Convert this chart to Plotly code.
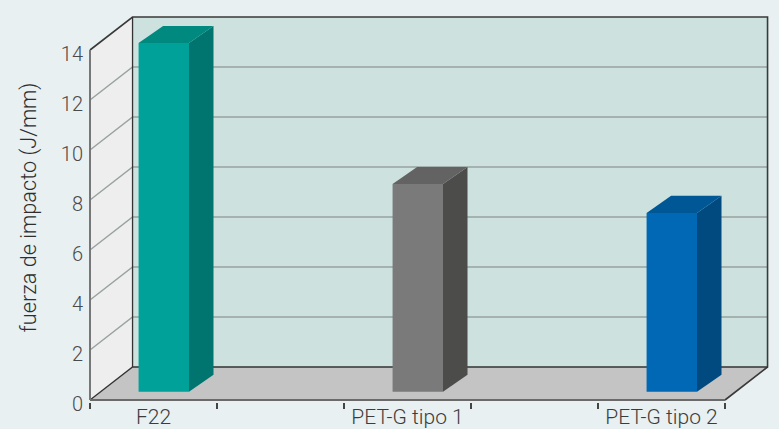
import plotly.graph_objects as go

# Chart values
categories = ["F22", "PET-G tipo 1", "PET-G tipo 2"]
impact = [13.95, 8.3, 7.15]
y_ticks = [0, 2, 4, 6, 8, 10, 12, 14]
band_edges = [0, 1, 2, 3, 4, 5]
band_centres = [0.5, 2.5, 4.5]

front_colors = ["#00a199", "#7a7a7a", "#0068b4"]
side_colors = ["#00756f", "#4c4c4b", "#004a80"]
top_colors = ["#00897f", "#636363", "#005796"]

# Oblique projection of the box, in axis units
WALL_DX = 0.335
WALL_DY = 1.32
BAR_WIDTH = 0.397
BAR_DX = 0.193
BAR_DY = 0.68
BAR_SHIFT_X = 0.081
BAR_LIFT = 0.335
X_END = 5
Y_END = 14

FONT = "Roboto"
TICK_COLOR = "#4a4a4a"


def poly(xs, ys, color):
    return go.Scatter(x=xs + xs[:1], y=ys + ys[:1], mode="lines", fill="toself",
                      fillcolor=color, line=dict(width=0), hoverinfo="skip")


def seg(xs, ys, color, width):
    return go.Scatter(x=xs, y=ys, mode="lines", line=dict(color=color, width=width),
                      hoverinfo="skip")


fig = go.Figure()

# Back wall, side wall and floor
fig.add_trace(poly([WALL_DX, X_END + WALL_DX, X_END + WALL_DX, WALL_DX],
                   [WALL_DY, WALL_DY, Y_END + WALL_DY, Y_END + WALL_DY], "#cde2df"))
fig.add_trace(poly([0, WALL_DX, WALL_DX, 0],
                   [0, WALL_DY, Y_END + WALL_DY, Y_END], "#eeeeee"))
fig.add_trace(poly([0, X_END, X_END + WALL_DX, WALL_DX],
                   [0, 0, WALL_DY, WALL_DY], "#c4c4c4"))

# Grid lines across both walls
for t in y_ticks[1:-1]:
    fig.add_trace(seg([0, WALL_DX, X_END + WALL_DX],
                      [t, t + WALL_DY, t + WALL_DY], "#98a3a1", 1.5))

# Box outline
fig.add_trace(seg([0, WALL_DX, X_END + WALL_DX, X_END + WALL_DX, X_END],
                  [Y_END, Y_END + WALL_DY, Y_END + WALL_DY, WALL_DY, 0], "#3a3a3a", 1.6))
fig.add_trace(seg([WALL_DX, WALL_DX], [Y_END + WALL_DY, WALL_DY], "#333333", 1.3))
fig.add_trace(seg([0, WALL_DX, X_END + WALL_DX], [0, WALL_DY, WALL_DY], "#333333", 1.3))
fig.add_trace(seg([0, X_END], [0, 0], "#6a6a6a", 1.8))
fig.add_trace(seg([0, 0], [0, Y_END], "#777777", 2))

# Extruded bars
for centre, value, front, side, top in zip(band_centres, impact, front_colors,
                                           side_colors, top_colors):
    x0 = centre + BAR_SHIFT_X - BAR_WIDTH / 2
    x1 = x0 + BAR_WIDTH
    y0 = BAR_LIFT
    y1 = y0 + value
    fig.add_trace(poly([x1, x1 + BAR_DX, x1 + BAR_DX, x1],
                       [y0, y0 + BAR_DY, y1 + BAR_DY, y1], side))
    fig.add_trace(poly([x0, x1, x1 + BAR_DX, x0 + BAR_DX],
                       [y1, y1, y1 + BAR_DY, y1 + BAR_DY], top))
    fig.add_trace(poly([x0, x1, x1, x0], [y0, y0, y1, y1], front))

fig.update_layout(
    width=779,
    height=429,
    autosize=False,
    showlegend=False,
    hovermode=False,
    paper_bgcolor="#e8f0f1",
    plot_bgcolor="#e8f0f1",
    margin=dict(l=84, r=4, t=13, b=27),
    font=dict(family=FONT, color=TICK_COLOR),
    xaxis=dict(
        automargin=False,
        range=[-6 / 127, (775 - 90) / 127],
        tickmode="array",
        tickvals=band_centres,
        ticktext=categories,
        ticks="",
        showgrid=False,
        zeroline=False,
        showline=False,
        tickfont=dict(size=21, family=FONT, color="#3c3c3c", weight=300),
        minor=dict(tickmode="array", tickvals=band_edges, ticks="outside",
                   ticklen=6, tickwidth=1.5, tickcolor="#444444", showgrid=False),
    ),
    yaxis=dict(
        automargin=False,
        range=[-2 / 25, (400 - 13) / 25],
        tickmode="array",
        tickvals=y_ticks,
        ticks="",
        showgrid=False,
        zeroline=False,
        showline=False,
        ticklabelshift=4,
        tickfont=dict(size=20, family=FONT, color=TICK_COLOR, weight=300),
        title=dict(text="fuerza de impacto (J/mm)", standoff=18,
                   font=dict(size=21.7, family=FONT, color="#2e2e2e", weight=300)),
    ),
)

fig.write_html("out.html")
